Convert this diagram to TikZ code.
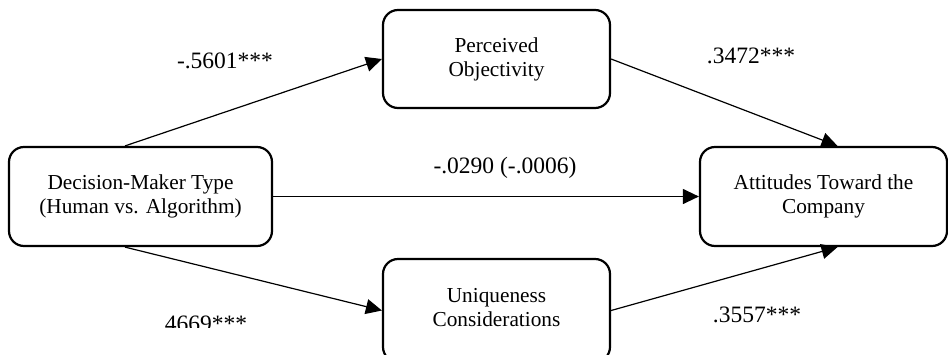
\documentclass[tikz,border=0pt]{standalone}
\usepackage{fontspec}
\setmainfont{Liberation Serif}
\usetikzlibrary{arrows.meta}
\begin{document}
\begin{tikzpicture}[x=1pt,y=-1pt,
  box/.style={draw, line width=2.2pt, rounded corners=15pt, align=center, inner sep=0pt,
    font=\fontsize{21.3}{24}\selectfont},
  link/.style={line width=1.2pt, -{Triangle[length=16pt,width=15pt]}},
  lbl/.style={anchor=base, inner sep=0pt, font=\fontsize{23.5}{27}\selectfont}]
\useasboundingbox (0,0) rectangle (948,354);
\clip (0,0) rectangle (948,354);
\node[box, minimum width=263pt, minimum height=99pt] (dm) at (140.5,196.5) {Decision-Maker Type\\(Human vs. Algorithm)};
\node[box, minimum width=227pt, minimum height=98pt] (po) at (496.5,59) {Perceived\\Objectivity};
\node[box, minimum width=247pt, minimum height=99pt] (att) at (823.5,196.5) {Attitudes Toward the\\Company};
\node[box, minimum width=227pt, minimum height=103pt] (uc) at (496.5,310.5) {};
\node[font=\fontsize{21.3}{24}\selectfont, align=center, inner sep=0pt] (uct) at (496.5,308) {Uniqueness\\Considerations};
\draw[link] ([xshift=-15.5pt]dm.north) -- (po.west);
\draw[link] (po.east) -- ([xshift=14pt]att.north);
\draw[link] (dm.east) -- (att.west);
\draw[link] ([xshift=-15.5pt]dm.south) -- (uc.west);
\draw[link] (uc.east) -- ([xshift=14pt]att.south);
\node[lbl] (l1) at (225,68) {-.5601***};
\node[lbl] (l2) at (751,63) {.3472***};
\node[lbl] (l3) at (505,173) {-.0290 (-.0006)};
\node[lbl] (l4) at (757,322) {.3557***};
\begin{scope}
\clip (100,300) rectangle (300,327);
\node[lbl] (l5) at (203,331) {.4669***};
\end{scope}
\end{tikzpicture}
\end{document}
